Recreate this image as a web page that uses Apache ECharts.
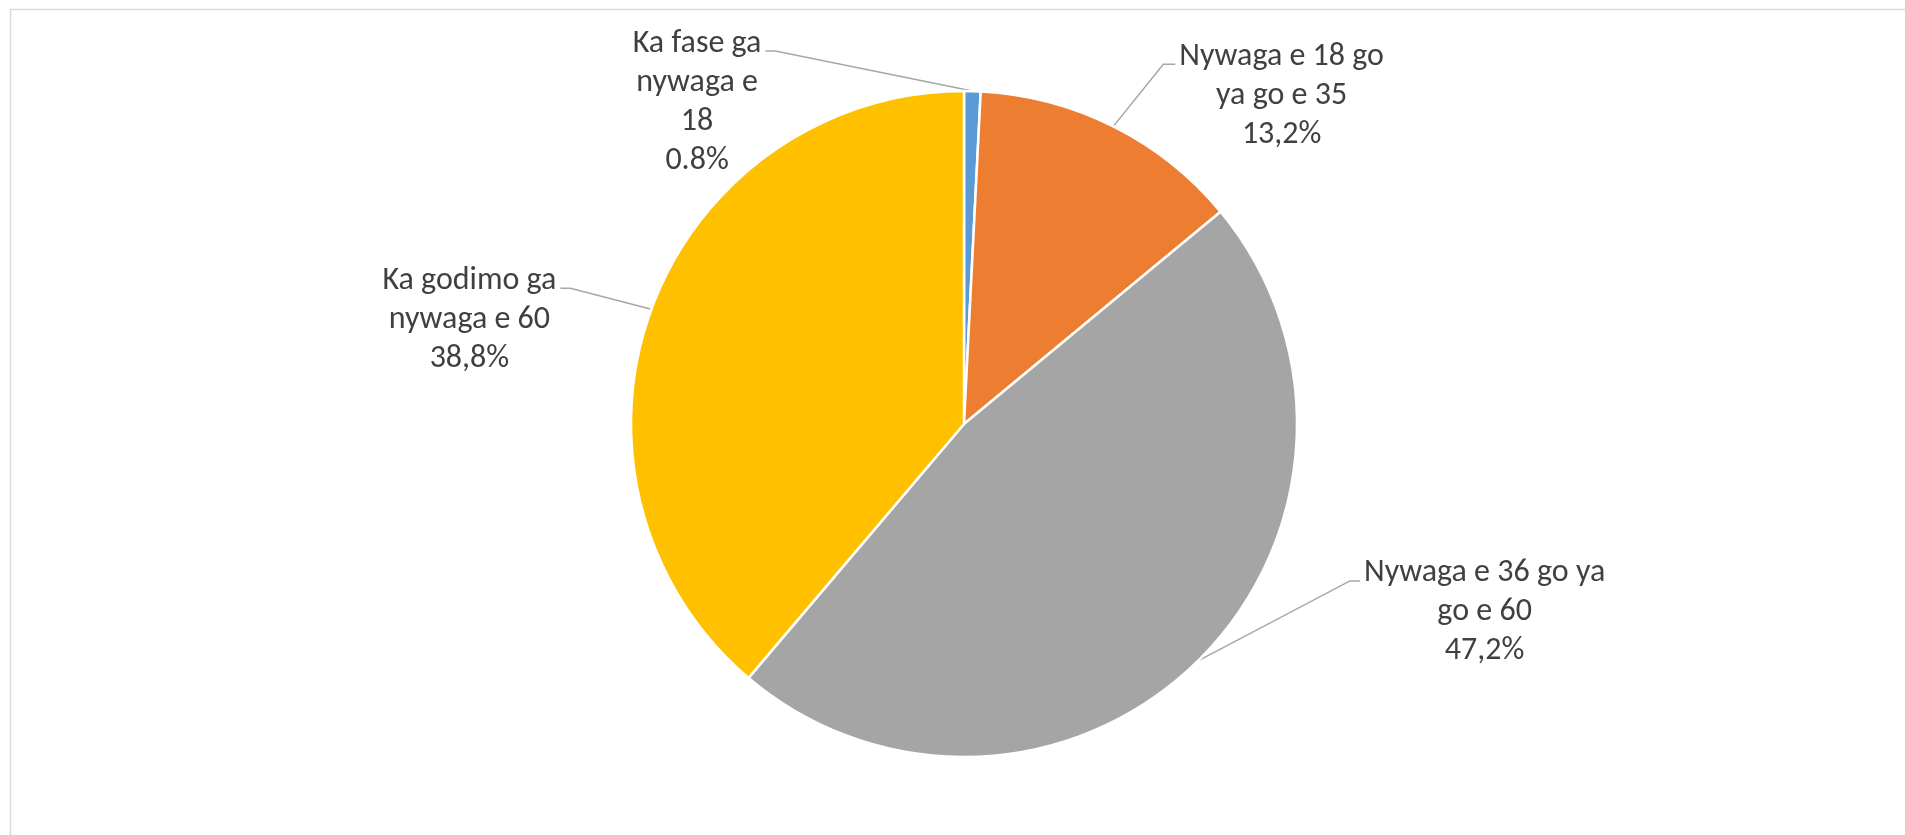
<!DOCTYPE html>
<html>
<head>
<meta charset="utf-8">
<script src="https://cdn.jsdelivr.net/npm/echarts@6/dist/echarts.min.js"></script>
<style>
  html, body { margin: 0; padding: 0; background: #ffffff; }
  #chart { width: 1905px; height: 835px; }
</style>
</head>
<body>
<div id="chart"></div>
<script>
// ---- data ----
const categories = [
  'Ka fase ga\nnywaga e\n18',
  'Nywaga e 18 go\nya go e 35',
  'Nywaga e 36 go ya\ngo e 60',
  'Ka godimo ga\nnywaga e 60'
];
const values = [0.8, 13.2, 47.2, 38.8];
const percentLabels = ['0.8%', '13,2%', '47,2%', '38,8%'];
const colors = ['#5B9BD5', '#ED7D31', '#A5A5A5', '#FFC000'];

// ---- label placement (elbow offsets of leader lines from the slice anchor) ----
const elbow = [[-197, -40], [50, -62], [152, -80], [-81, -21]];
const tail = [10, 12, 10, 10];

const chart = echarts.init(document.getElementById('chart'), null, { renderer: 'canvas' });

chart.setOption({
  backgroundColor: '#ffffff',
  animation: false,
  graphic: [{
    type: 'rect',
    shape: { x: 10.5, y: 9.5, width: 1920, height: 860 },
    style: { fill: 'none', stroke: '#d9d9d9', lineWidth: 1.5 },
    silent: true
  }],
  series: [{
    type: 'pie',
    center: [964, 424],
    radius: 333,
    startAngle: 90,
    clockwise: true,
    avoidLabelOverlap: false,
    itemStyle: { borderColor: '#ffffff', borderWidth: 2.5 },
    label: {
      show: true,
      position: 'outside',
      color: '#404040',
      fontFamily: 'Carlito, "Open Sans", sans-serif',
      fontSize: 32,
      lineHeight: 39,
      formatter: function (p) { return p.name + '\n' + percentLabels[p.dataIndex]; }
    },
    labelLine: {
      show: true,
      smooth: false,
      lineStyle: { color: '#A6A6A6', width: 1.5 }
    },
    labelLayout: function (p) {
      const i = p.dataIndex;
      const a = p.labelLinePoints[0];
      const b = [a[0] + elbow[i][0], a[1] + elbow[i][1]];
      const right = elbow[i][0] > 0;
      const c = [b[0] + (right ? tail[i] : -tail[i]), b[1]];
      const w = p.labelRect.width;
      return {
        x: c[0] + (right ? 1 : -1) * (4 + w / 2),
        y: c[1] - 27,
        align: 'center',
        verticalAlign: 'top',
        labelLinePoints: [a, b, c]
      };
    },
    data: categories.map(function (c, i) {
      return { name: c, value: values[i], itemStyle: { color: colors[i] } };
    })
  }]
});
</script>
</body>
</html>
